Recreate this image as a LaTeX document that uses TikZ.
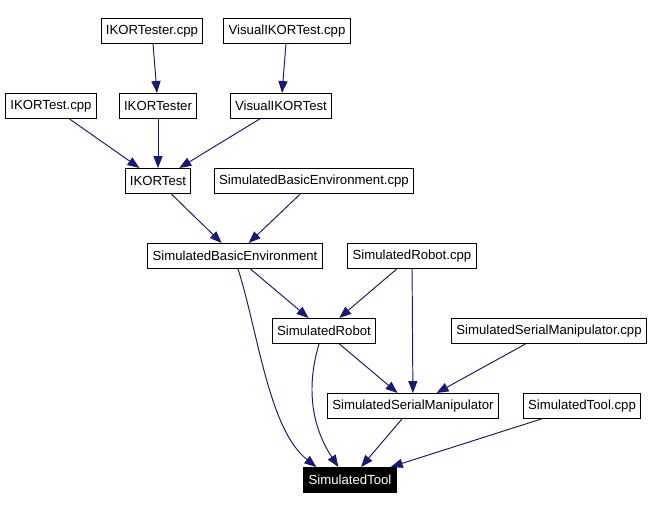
\documentclass[tikz,border=0pt]{standalone}
\usepackage{fontspec}
\setmainfont{Liberation Sans}
\usetikzlibrary{arrows.meta,calc}
\definecolor{edgeblue}{RGB}{25,25,112}
\begin{document}
\begin{tikzpicture}[
            x=0.02cm,y=-0.02cm,
            cls/.style={draw,font=\fontsize{7.5}{8}\selectfont,inner xsep=2.7pt,inner ysep=0pt,minimum height=14.2pt,line width=0.6pt},
            cur/.style={cls,fill=black,text=white},
            dep/.style={draw=edgeblue,line width=0.55pt,-{Triangle[length=6.8pt,width=5.2pt]}},
        ]
    \useasboundingbox (0,0) rectangle (654,510);

    \node[cls] (testercpp) at (152,31) {IKORTester.cpp};
    \node[cls] (visualcpp) at (287,31) {VisualIKORTest.cpp};
    \node[cls] (testcpp) at (51,106) {IKORTest.cpp};
    \node[cls] (tester) at (158,106) {IKORTester};
    \node[cls] (visual) at (281,106) {VisualIKORTest};
    \draw[dep] (testercpp) -- (tester);
    \draw[dep] (visualcpp) -- (visual);

    \node[cls] (test) at (158,181) {IKORTest};
    \node[cls] (envcpp) at (314,181) {SimulatedBasicEnvironment.cpp};
    \draw[dep] (testcpp) -- (test);
    \draw[dep] (tester) -- (test);
    \draw[dep] (visual) -- (test);

    \node[cls] (env) at (235,256) {SimulatedBasicEnvironment};
    \node[cls] (robotcpp) at (412,256) {SimulatedRobot.cpp};
    \draw[dep] (test) -- (env);
    \draw[dep] (envcpp) -- (env);

    \node[cls] (robot) at (324,331) {SimulatedRobot};
    \node[cls] (serialcpp) at (549,331) {SimulatedSerialManipulator.cpp};
    \draw[dep] (env) -- (robot);
    \draw[dep] (robotcpp) -- (robot);

    \node[cls] (serial) at (413,406) {SimulatedSerialManipulator};
    \node[cls] (toolcpp) at (582,406) {SimulatedTool.cpp};
    \draw[dep] (robotcpp) -- (serial);
    \draw[dep] (robot) -- (serial);
    \draw[dep] (serialcpp) -- (serial);

    \node[cur] (tool) at (350,480) {SimulatedTool};
    \draw[dep] ($(env.south)+(3,0)$) .. controls +(20,62) and +(-48,-38) .. ($(tool.north west)+(13,0)$);
    \draw[dep] ($(robot.south)+(-5,0)$) .. controls +(-14,47) and +(-25,-38) .. ($(tool.north west)+(35,0)$);
    \draw[dep] (serial) -- (tool);
    \draw[dep] (toolcpp) -- (tool);
\end{tikzpicture}
\end{document}
